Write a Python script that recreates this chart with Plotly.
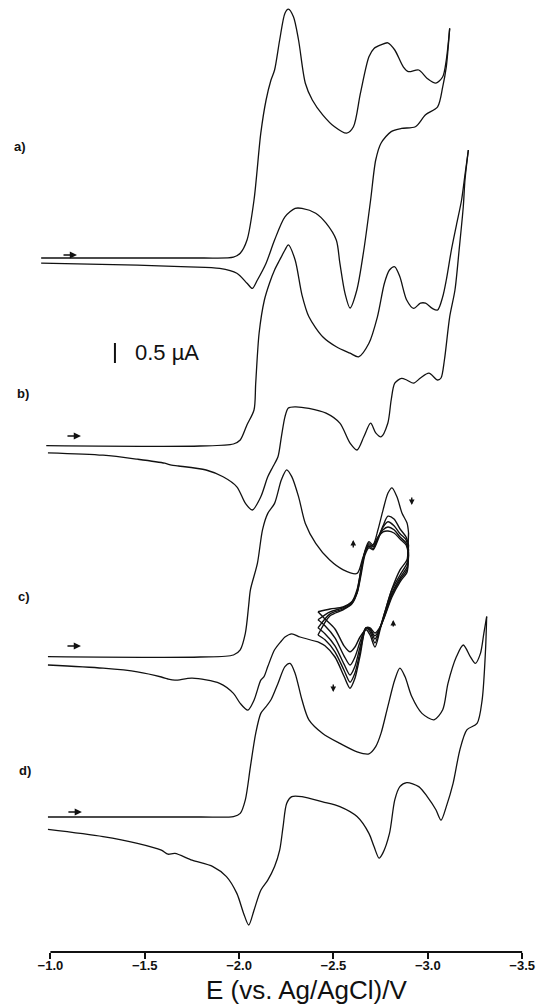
import plotly.graph_objects as go

# ---------------- data (E in V vs Ag/AgCl, I in µA relative to each trace's baseline) -------------
# a)
a_fwd_E = [-0.951, -1.800, -1.970, -2.006, -2.042, -2.079, -2.115, -2.143, -2.169, -2.188, -2.215, -2.243,
           -2.261, -2.288, -2.315, -2.351, -2.388, -2.443, -2.506, -2.570, -2.606, -2.643, -2.688, -2.715,
           -2.752, -2.788, -2.825, -2.870, -2.897, -2.952, -2.997, -3.043, -3.079, -3.098, -3.116]
a_fwd_I = [0.00, 0.00, 0.02, 0.12, 0.45, 1.45, 3.12, 3.95, 4.45, 4.70, 5.45, 6.12,
           6.22, 6.03, 5.45, 4.37, 3.95, 3.58, 3.28, 3.12, 3.28, 4.12, 5.03, 5.24,
           5.33, 5.38, 5.20, 4.78, 4.66, 4.70, 4.49, 4.37, 4.53, 4.95, 5.74]
a_rev_E = [-3.116, -3.098, -3.079, -3.052, -2.988, -2.934, -2.861, -2.806, -2.752, -2.724, -2.697, -2.661,
           -2.624, -2.588, -2.561, -2.534, -2.515, -2.461, -2.406, -2.333, -2.297, -2.243, -2.188, -2.143,
           -2.097, -2.070, -2.042, -1.988, -1.897, -1.733, -1.461, -0.951]
a_rev_I = [5.74, 4.78, 4.28, 3.78, 3.58, 3.28, 3.24, 3.16, 2.87, 2.45, 1.45, 0.20,
           -0.80, -1.25, -0.88, -0.13, 0.45, 0.87, 1.12, 1.24, 1.24, 1.03, 0.45, -0.13,
           -0.55, -0.76, -0.63, -0.38, -0.26, -0.22, -0.18, -0.13]

# b)
b_fwd_E = [-0.978, -1.793, -1.970, -2.006, -2.042, -2.079, -2.088, -2.106, -2.134, -2.161, -2.188, -2.215,
           -2.243, -2.261, -2.297, -2.333, -2.370, -2.443, -2.515, -2.588, -2.633, -2.688, -2.733, -2.770,
           -2.797, -2.825, -2.852, -2.888, -2.925, -2.961, -2.988, -3.024, -3.052, -3.079, -3.098, -3.125,
           -3.152, -3.179, -3.197, -3.215]
b_fwd_I = [0.01, 0.00, 0.05, 0.15, 0.53, 0.90, 1.57, 2.82, 3.65, 4.07, 4.40, 4.65,
           4.90, 5.03, 4.65, 3.78, 3.23, 2.73, 2.48, 2.32, 2.23, 2.57, 3.23, 4.07,
           4.40, 4.48, 4.23, 3.65, 3.44, 3.57, 3.57, 3.44, 3.40, 3.73, 4.15, 4.90,
           5.53, 6.15, 6.78, 7.40]
b_rev_E = [-3.215, -3.197, -3.188, -3.166, -3.144, -3.116, -3.088, -3.070, -3.052, -3.006, -2.961, -2.925,
           -2.888, -2.861, -2.825, -2.806, -2.788, -2.752, -2.724, -2.697, -2.661, -2.625, -2.588, -2.534,
           -2.461, -2.370, -2.297, -2.261, -2.243, -2.224, -2.206, -2.179, -2.152, -2.115, -2.070, -2.033,
           -1.988, -1.915, -1.825, -1.679, -1.642, -1.606, -1.461, -1.279, -0.987]
b_rev_I = [7.40, 6.65, 5.98, 4.90, 3.90, 3.23, 2.15, 1.70, 1.65, 1.82, 1.70, 1.57,
           1.65, 1.69, 1.57, 1.15, 0.57, 0.23, 0.33, 0.57, 0.23, -0.10, 0.07, 0.57,
           0.82, 0.94, 0.98, 0.95, 0.73, 0.23, -0.27, -0.52, -0.77, -1.27, -1.60, -1.43,
           -1.02, -0.77, -0.60, -0.50, -0.48, -0.43, -0.33, -0.23, -0.17]

# c) first forward scan, then repeated cycles between about -2.42 and -2.90 V
c_fwd_E = [-0.987, -1.793, -1.970, -2.006, -2.033, -2.051, -2.060, -2.097, -2.124, -2.152, -2.188, -2.224,
           -2.252, -2.279, -2.315, -2.351, -2.406, -2.479, -2.552, -2.625, -2.657, -2.683, -2.710, -2.736,
           -2.763, -2.789, -2.810, -2.837, -2.863, -2.890, -2.898]
c_fwd_I = [0.01, 0.00, 0.05, 0.18, 0.59, 1.30, 1.68, 2.34, 3.18, 3.59, 3.84, 4.43,
           4.68, 4.51, 4.01, 3.34, 2.84, 2.43, 2.18, 2.09, 2.50, 2.75, 2.80, 3.18,
           3.68, 4.10, 4.23, 4.00, 3.60, 3.35, 3.10]
c_cycle_fwd_E = [-2.418, -2.482, -2.551, -2.598, -2.625, -2.646, -2.667, -2.688, -2.710, -2.736, -2.763,
                 -2.789, -2.821, -2.853, -2.885, -2.898]
c_cycle2_fwd_I = [1.13, 1.20, 1.25, 1.38, 1.60, 2.05, 2.55, 2.73, 2.68, 2.93, 3.28, 3.52, 3.45, 3.20, 3.00, 2.80]
c_cycle3_fwd_I = [0.93, 1.13, 1.23, 1.38, 1.68, 2.18, 2.60, 2.78, 2.70, 2.98, 3.25, 3.38, 3.28, 3.08, 2.93, 2.68]
c_cycle4_fwd_I = [0.73, 1.08, 1.20, 1.35, 1.63, 2.18, 2.63, 2.83, 2.75, 2.98, 3.18, 3.25, 3.18, 3.00, 2.85, 2.60]
c_cycle5_fwd_I = [0.55, 1.03, 1.18, 1.33, 1.60, 2.13, 2.65, 2.88, 2.80, 3.00, 3.13, 3.15, 3.10, 2.95, 2.80, 2.55]
c_cycle_rev_E = [-2.898, -2.895, -2.890, -2.853, -2.810, -2.773, -2.747, -2.720, -2.694, -2.673, -2.641,
                 -2.614, -2.588, -2.556, -2.508, -2.455, -2.418]
c_cycle1_rev_I = [3.10, 2.75, 2.43, 2.18, 1.70, 1.13, 0.68, 0.25, 0.55, 0.68, 0.50, 0.25, 0.13, 0.28, 0.70, 0.95, 1.13]
c_cycle2_rev_I = [2.80, 2.55, 2.35, 2.05, 1.68, 1.13, 0.73, 0.35, 0.63, 0.73, 0.38, 0.00, -0.20, 0.03, 0.48, 0.78, 0.93]
c_cycle3_rev_I = [2.68, 2.43, 2.25, 1.98, 1.60, 1.08, 0.73, 0.45, 0.68, 0.73, 0.25, -0.23, -0.45, -0.18, 0.28, 0.58, 0.73]
c_cycle4_rev_I = [2.60, 2.35, 2.18, 1.93, 1.55, 1.05, 0.73, 0.53, 0.70, 0.73, 0.13, -0.40, -0.63, -0.33, 0.13, 0.43, 0.55]
c_cycle5_rev_I = [2.55, 2.30, 2.12, 1.88, 1.50, 1.03, 0.75, 0.60, 0.73, 0.73, 0.03, -0.53, -0.78, -0.48, 0.00, 0.28, 0.38]
c_tail_E = [-2.418, -2.323, -2.279, -2.243, -2.224, -2.188, -2.152, -2.132, -2.115, -2.079, -2.046, -2.006,
            -1.970, -1.897, -1.751, -1.660, -1.623, -1.588, -1.461, -1.279, -0.987]
c_tail_I = [0.38, 0.50, 0.58, 0.50, 0.40, 0.18, -0.24, -0.49, -0.58, -1.08, -1.33, -1.16,
            -0.91, -0.66, -0.53, -0.58, -0.55, -0.50, -0.37, -0.28, -0.20]

# d)
d_fwd_E = [-0.987, -1.793, -1.970, -2.006, -2.033, -2.060, -2.088, -2.115, -2.143, -2.169, -2.206, -2.243,
           -2.270, -2.297, -2.333, -2.370, -2.443, -2.534, -2.625, -2.688, -2.724, -2.752, -2.788, -2.825,
           -2.852, -2.879, -2.915, -2.969, -3.033, -3.079, -3.107, -3.152, -3.188, -3.225, -3.252, -3.279,
           -3.297, -3.312]
d_fwd_I = [0.00, 0.00, 0.01, 0.09, 0.43, 1.26, 2.09, 2.59, 2.76, 2.93, 3.34, 3.76,
           3.84, 3.59, 2.93, 2.43, 2.09, 1.84, 1.63, 1.58, 1.76, 2.09, 2.76, 3.43,
           3.72, 3.51, 3.01, 2.59, 2.43, 2.68, 3.34, 4.01, 4.30, 4.01, 3.84, 4.09,
           4.59, 5.01]
d_rev_E = [-3.312, -3.306, -3.288, -3.261, -3.207, -3.170, -3.134, -3.098, -3.070, -3.043, -2.997, -2.952,
           -2.888, -2.852, -2.825, -2.797, -2.761, -2.742, -2.715, -2.688, -2.625, -2.534, -2.443, -2.333,
           -2.279, -2.252, -2.233, -2.215, -2.188, -2.152, -2.115, -2.079, -2.051, -2.024, -1.988, -1.933,
           -1.861, -1.751, -1.660, -1.623, -1.588, -1.461, -1.279, -0.987]
d_rev_I = [5.01, 4.18, 2.93, 2.34, 2.18, 1.68, 0.84, 0.26, -0.08, 0.18, 0.51, 0.76,
           0.86, 0.76, 0.43, -0.41, -0.91, -1.03, -0.74, -0.41, 0.01, 0.26, 0.38, 0.51,
           0.51, 0.34, -0.24, -0.83, -1.24, -1.58, -1.83, -2.33, -2.70, -2.41, -1.91, -1.49,
           -1.24, -1.08, -0.91, -0.93, -0.83, -0.66, -0.49, -0.31]

x_ticks = [-1.0, -1.5, -2.0, -2.5, -3.0, -3.5]
x_tick_text = ["\u22121.0", "\u22121.5", "\u22122.0", "\u22122.5", "\u22123.0", "\u22123.5"]
panel_labels = ["a)", "b)", "c)", "d)"]
# vertical stacking offsets of the four voltammograms (µA)
offsets = {"a": 17.35, "b": 12.65, "c": 7.375, "d": 3.375}

# ---------------- figure ----------------
fig = go.Figure()
LINE = dict(color="#111111", width=1.3, shape="spline", smoothing=0.8)


def add(E, I, off, width=1.3):
    ln = dict(LINE)
    ln["width"] = width
    fig.add_trace(go.Scatter(x=E, y=[v + off for v in I], mode="lines", line=ln,
                             hoverinfo="skip", showlegend=False))


add(a_fwd_E, a_fwd_I, offsets["a"])
add(a_rev_E, a_rev_I, offsets["a"])
add(b_fwd_E, b_fwd_I, offsets["b"])
add(b_rev_E, b_rev_I, offsets["b"])
add(c_fwd_E, c_fwd_I, offsets["c"])
for fw in [c_cycle2_fwd_I, c_cycle3_fwd_I, c_cycle4_fwd_I, c_cycle5_fwd_I]:
    add(c_cycle_fwd_E, fw, offsets["c"], 1.4)
for rv in [c_cycle1_rev_I, c_cycle2_rev_I, c_cycle3_rev_I, c_cycle4_rev_I, c_cycle5_rev_I]:
    add(c_cycle_rev_E, rv, offsets["c"], 1.4)
add(c_tail_E, c_tail_I, offsets["c"])
add(d_fwd_E, d_fwd_I, offsets["d"])
add(d_rev_E, d_rev_I, offsets["d"])

annotations = []
# panel labels
for lab, px_x, yv in zip(panel_labels, [-0.032, -0.026, -0.024, -0.022], [20.15, 13.975, 8.9, 4.55]):
    annotations.append(dict(x=px_x, y=yv, xref="paper", yref="y", text=lab, showarrow=False,
                            font=dict(family="Liberation Sans", size=13, color="#111111", weight="bold"),
                            xanchor="center", yanchor="middle"))
# scan direction arrows
for ex, yv in [(-1.141, 17.425), (-1.162, 12.9), (-1.162, 7.65), (-1.167, 3.5)]:
    annotations.append(dict(x=ex, y=yv, xref="x", yref="y", text="", showarrow=True, ax=-15, ay=0,
                            arrowhead=2, arrowsize=0.9, arrowwidth=1.6, arrowcolor="#111111"))
# cycle-trend arrows in c)
for ex, yv, ay in [(-2.915, 11.175, -9), (-2.605, 10.3, 9), (-2.817, 8.3, 8), (-2.499, 6.5, -9)]:
    annotations.append(dict(x=ex, y=yv, xref="x", yref="y", text="", showarrow=True, ax=0, ay=ay,
                            arrowhead=2, arrowsize=0.8, arrowwidth=1.4, arrowcolor="#111111"))
# scale bar text
annotations.append(dict(x=-1.438, y=14.98, xref="x", yref="y", text="0.5 \u00b5A", showarrow=False,
                        xanchor="left", yanchor="middle",
                        font=dict(family="Liberation Sans", size=22, color="#111111")))
# x-axis title
annotations.append(dict(x=0.546, y=-0.0395, xref="paper", yref="paper", text="E (vs. Ag/AgCl)/V",
                        showarrow=False, xanchor="center", yanchor="middle",
                        font=dict(family="Liberation Sans", size=26, color="#111111")))

shapes = [
    dict(type="line", xref="x", yref="paper", x0=-1.0, x1=-3.5, y0=0, y1=0,
         line=dict(color="#111111", width=2)),
    dict(type="line", xref="x", yref="y", x0=-1.342, x1=-1.342, y0=14.725, y1=15.225,
         line=dict(color="#111111", width=2)),
]

fig.update_layout(
    width=538, height=1006,
    margin=dict(l=36, r=6, t=0, b=54),
    paper_bgcolor="white", plot_bgcolor="white",
    showlegend=False,
    annotations=annotations,
    shapes=shapes,
    xaxis=dict(range=[-0.92369, -3.55220], tickvals=x_ticks, ticktext=x_tick_text,
               ticks="outside", ticklen=6, tickwidth=1.5, tickcolor="#111111",
               ticklabelstandoff=-5,
               showline=False, showgrid=False, zeroline=False, automargin=False,
               tickfont=dict(family="Liberation Sans", size=13, color="#111111", weight="bold")),
    yaxis=dict(range=[0, 23.8], visible=False, showgrid=False, zeroline=False, automargin=False),
)

fig.write_html("out.html")
